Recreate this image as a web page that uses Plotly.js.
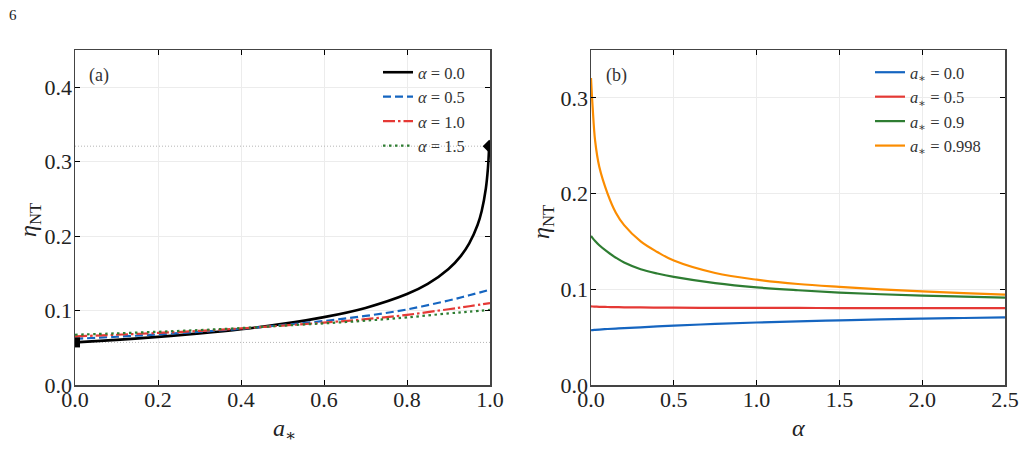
<!DOCTYPE html>
<html>
<head>
<meta charset="utf-8">
<script src="https://cdn.plot.ly/plotly-3.0.1.min.js"></script>
<style>html,body{margin:0;padding:0;background:#fff;}#chart{width:1025px;height:466px;}</style>
</head>
<body>
<div id="chart"></div>
<script>
// ---------- Panel (a): efficiency vs spin ----------
const spinKerr = [0, 0.1, 0.2, 0.3, 0.4, 0.5, 0.6, 0.7, 0.8, 0.85, 0.9, 0.93, 0.95, 0.97, 0.98, 0.99, 0.995, 0.998];
const etaAlpha00 = [0.0572, 0.0606, 0.0646, 0.0693, 0.0749, 0.0821, 0.0912, 0.1036, 0.1222, 0.1358, 0.1558, 0.1735, 0.1902, 0.2149, 0.2338, 0.2640, 0.2909, 0.3208];
const spinGrid = [0, 0.1, 0.2, 0.3, 0.4, 0.5, 0.6, 0.7, 0.8, 0.9, 0.95, 1.0];
const etaAlpha05 = [0.0620, 0.0648, 0.0680, 0.0715, 0.0755, 0.0806, 0.0860, 0.0928, 0.1015, 0.1135, 0.1205, 0.1280];
const etaAlpha10 = [0.0653, 0.0675, 0.0699, 0.0727, 0.0760, 0.0798, 0.0838, 0.0884, 0.0942, 0.1018, 0.1058, 0.1100];
const etaAlpha15 = [0.0675, 0.0694, 0.0715, 0.0738, 0.0765, 0.0797, 0.0828, 0.0864, 0.0908, 0.0962, 0.0985, 0.1010];
const legendA = ["<i>α</i> = 0.0", "<i>α</i> = 0.5", "<i>α</i> = 1.0", "<i>α</i> = 1.5"];

// ---------- Panel (b): efficiency vs alpha ----------
const alphaGrid = [0, 0.01, 0.025, 0.05, 0.1, 0.15, 0.2, 0.3, 0.4, 0.5, 0.75, 1.0, 1.25, 1.5, 1.75, 2.0, 2.25, 2.5];
const etaSpin0000 = [0.0572, 0.0574, 0.0576, 0.0579, 0.0585, 0.0590, 0.0594, 0.0603, 0.0612, 0.0620, 0.0638, 0.0653, 0.0665, 0.0675, 0.0685, 0.0693, 0.0700, 0.0707];
const etaSpin0500 = [0.0821, 0.0820, 0.0819, 0.0817, 0.0815, 0.0813, 0.0812, 0.0810, 0.0809, 0.0808, 0.0806, 0.0805, 0.0805, 0.0804, 0.0804, 0.0803, 0.0803, 0.0803];
const etaSpin0900 = [0.1558, 0.1535, 0.1505, 0.1460, 0.1390, 0.1330, 0.1280, 0.1210, 0.1165, 0.1130, 0.1065, 0.1020, 0.0990, 0.0966, 0.0948, 0.0934, 0.0923, 0.0913];
const etaSpin0998 = [0.3208, 0.2900, 0.2550, 0.2280, 0.2000, 0.1800, 0.1670, 0.1500, 0.1390, 0.1300, 0.1170, 0.1100, 0.1055, 0.1025, 0.1000, 0.0978, 0.0960, 0.0945];
const legendB = ["<i>a</i><sub>∗</sub> = 0.0", "<i>a</i><sub>∗</sub> = 0.5", "<i>a</i><sub>∗</sub> = 0.9", "<i>a</i><sub>∗</sub> = 0.998"];

const xTicksA = [0, 0.2, 0.4, 0.6, 0.8, 1.0];
const yTicksA = [0, 0.1, 0.2, 0.3, 0.4];
const xTicksB = [0, 0.5, 1.0, 1.5, 2.0, 2.5];
const yTicksB = [0, 0.1, 0.2, 0.3];

const SERIF = "'Liberation Serif', 'DejaVu Serif', serif";
const cBlack = "#000000", cBlue = "#1565c0", cRed = "#e53935", cGreen = "#2e7d32", cOrange = "#fb8c00";

const traces = [
  // reference dotted lines in (a)
  {x: [0, 1], y: [etaAlpha00[0], etaAlpha00[0]], mode: "lines", line: {color: "#b5b5b5", width: 1, dash: "1px,2px"}, showlegend: false, hoverinfo: "skip", xaxis: "x", yaxis: "y"},
  {x: [0, 1], y: [etaAlpha00[etaAlpha00.length-1], etaAlpha00[etaAlpha00.length-1]], mode: "lines", line: {color: "#b5b5b5", width: 1, dash: "1px,2px"}, showlegend: false, hoverinfo: "skip", xaxis: "x", yaxis: "y"},
  {x: spinKerr, y: etaAlpha00, name: legendA[0], mode: "lines", line: {color: cBlack, width: 2.6, shape: "spline"}, xaxis: "x", yaxis: "y", legend: "legend"},
  {x: spinGrid, y: etaAlpha05, name: legendA[1], mode: "lines", line: {color: cBlue, width: 2.2, dash: "8px,4px", shape: "spline"}, xaxis: "x", yaxis: "y", legend: "legend"},
  {x: spinGrid, y: etaAlpha10, name: legendA[2], mode: "lines", line: {color: cRed, width: 2.2, dash: "12px,3px,2.5px,3px", shape: "spline"}, xaxis: "x", yaxis: "y", legend: "legend"},
  {x: spinGrid, y: etaAlpha15, name: legendA[3], mode: "lines", line: {color: cGreen, width: 2.2, dash: "2.5px,3.5px", shape: "spline"}, xaxis: "x", yaxis: "y", legend: "legend"},
  {x: [spinKerr[0], spinKerr[spinKerr.length-1]], y: [etaAlpha00[0], etaAlpha00[etaAlpha00.length-1]], mode: "markers", marker: {symbol: ["square", "diamond"], size: 10, color: cBlack}, showlegend: false, xaxis: "x", yaxis: "y"},
  // panel (b)
  {x: alphaGrid, y: etaSpin0000, name: legendB[0], mode: "lines", line: {color: cBlue, width: 2.2, shape: "spline"}, xaxis: "x2", yaxis: "y2", legend: "legend2"},
  {x: alphaGrid, y: etaSpin0500, name: legendB[1], mode: "lines", line: {color: cRed, width: 2.2, shape: "spline"}, xaxis: "x2", yaxis: "y2", legend: "legend2"},
  {x: alphaGrid, y: etaSpin0900, name: legendB[2], mode: "lines", line: {color: cGreen, width: 2.2, shape: "spline"}, xaxis: "x2", yaxis: "y2", legend: "legend2"},
  {x: alphaGrid, y: etaSpin0998, name: legendB[3], mode: "lines", line: {color: cOrange, width: 2.2, shape: "spline"}, xaxis: "x2", yaxis: "y2", legend: "legend2"}
];

const W = 1025, H = 466;
const px = v => v / W, py = v => 1 - v / H;

function axisStyle(extra) {
  return Object.assign({
    showline: true, linecolor: "#444", linewidth: 1.5, mirror: "ticks",
    ticks: "inside", ticklen: 5, tickwidth: 1, tickcolor: "#000",
    showgrid: true, gridcolor: "#ececec", gridwidth: 1, zeroline: false,
    tickfont: {family: SERIF, size: 22, color: "#222"}, tickformat: ".1f", fixedrange: true
  }, extra);
}

const legendCommon = {
  bgcolor: "rgba(0,0,0,0)", borderwidth: 0, font: {family: SERIF, size: 16.5, color: "#333"},
  xanchor: "left", yanchor: "top", tracegroupgap: 0, itemwidth: 30, traceorder: "normal"
};

function label(text, x, y, size, extra) {
  return Object.assign({text: text, x: px(x), y: py(y), xref: "paper", yref: "paper", xanchor: "center", yanchor: "middle",
    showarrow: false, font: {family: SERIF, size: size, color: "#222"}}, extra || {});
}

const layout = {
  width: W, height: H,
  margin: {l: 0, r: 0, t: 0, b: 0},
  paper_bgcolor: "#fff", plot_bgcolor: "#fff",
  xaxis: axisStyle({domain: [px(75), px(490)], range: [0, 1], tickvals: xTicksA, anchor: "y", ticklabelstandoff: -6}),
  yaxis: axisStyle({domain: [py(385), py(50)], range: [0, 0.45], tickvals: yTicksA, anchor: "x", ticklabelstandoff: -3}),
  xaxis2: axisStyle({domain: [px(591), px(1005)], range: [0, 2.5], tickvals: xTicksB, anchor: "y2", ticklabelstandoff: -6}),
  yaxis2: axisStyle({domain: [py(385), py(50)], range: [0, 0.35], tickvals: yTicksB, anchor: "x2", ticklabelstandoff: -3}),
  legend: Object.assign({}, legendCommon, {x: px(378), y: py(55)}),
  legend2: Object.assign({}, legendCommon, {x: px(870), y: py(55)}),
  annotations: [
    label("6", 13, 15, 15),
    label("(a)", 99, 76, 18, {font: {family: SERIF, size: 18, color: "#333"}}),
    label("(b)", 616, 76, 18, {font: {family: SERIF, size: 18, color: "#333"}}),
    label("<i>a</i><sub>∗</sub>", 284, 430, 24),
    label("<i>α</i>", 798, 428, 24),
    label("<i>η</i><sub>NT</sub>", 30, 220, 24, {textangle: -90}),
    label("<i>η</i><sub>NT</sub>", 543, 222, 24, {textangle: -90})
  ]
};

Plotly.newPlot("chart", traces, layout, {displayModeBar: false, staticPlot: true});
</script>
</body>
</html>
